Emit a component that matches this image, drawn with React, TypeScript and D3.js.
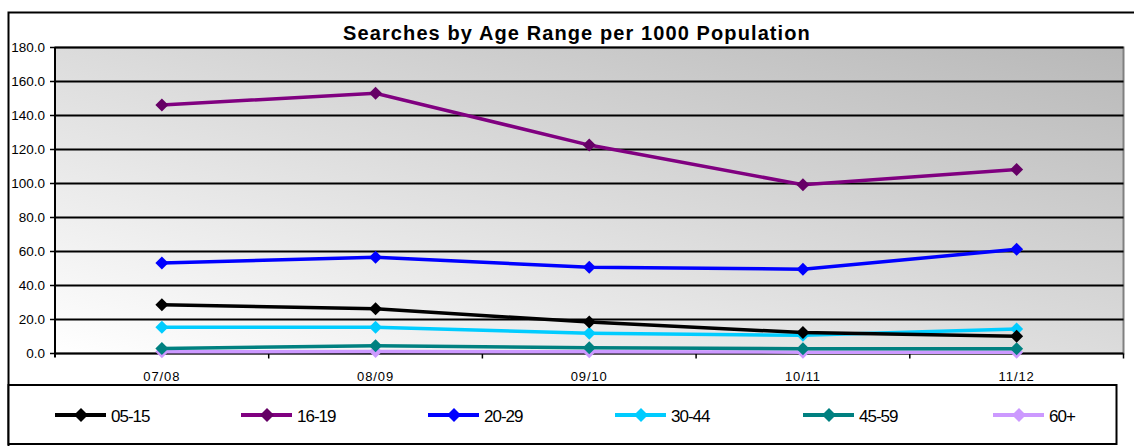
import React from "react";
import * as d3 from "d3";

const categories = ["07/08", "08/09", "09/10", "10/11", "11/12"];
const seriesNames = ["05-15", "16-19", "20-29", "30-44", "45-59", "60+"];
const s0515 = [28.7, 26.3, 18.5, 12.3, 10.2];
const s1619 = [146.2, 153.1, 122.6, 99.3, 108.3];
const s2029 = [53.3, 56.6, 50.7, 49.6, 61.3];
const s3044 = [15.4, 15.5, 11.9, 10.7, 14.4];
const s4559 = [3.0, 4.5, 3.4, 2.8, 2.8];
const s60 = [1.0, 1.2, 1.0, 0.8, 0.8];
const yTicks = [0, 20, 40, 60, 80, 100, 120, 140, 160, 180];
const lineColors = ["#000000", "#800080", "#0000ff", "#00ccff", "#008080", "#cc99ff"];
const markerColors = ["#000000", "#660066", "#0000ff", "#00ccff", "#008080", "#cc99ff"];

const allSeries = [s0515, s1619, s2029, s3044, s4559, s60];

export default function App() {
  const W = 1134, H = 446;
  const left = 55, right = 1123.5, top = 47.5, bottom = 353.5;
  const x = d3.scaleBand<string>().domain(categories).range([left, right]);
  const y = d3.scaleLinear().domain([0, 180]).range([bottom, top]);
  const line = d3.line<number>().x((_, i) => (x(categories[i]) as number) + x.bandwidth() / 2).y((d) => y(d));
  const diamond = (cx: number, cy: number, r: number) => `M${cx},${cy - r}L${cx + r},${cy}L${cx},${cy + r}L${cx - r},${cy}Z`;
  const font = "Arial, 'Liberation Sans', sans-serif";
  const legendX = [55, 241, 428, 615, 803, 993];
  const legendY = 415;

  return (
    <svg width={W} height={H} style={{ position: "absolute", left: 0, top: 0 }} fontFamily={font}>
      <defs>
        <linearGradient id="bg" x1="0" y1="1" x2="1" y2="0">
          <stop offset="0" stopColor="#ffffff" />
          <stop offset="1" stopColor="#b8b8b8" />
        </linearGradient>
      </defs>
      <rect x={0} y={0} width={W} height={H} fill="#fff" />
      <rect x={8.5} y={12.5} width={1140} height={445} fill="#fff" stroke="#000" strokeWidth={2} />
      <text x={577} y={40} textAnchor="middle" fontSize={20} fontWeight="bold" fill="#000" letterSpacing={1.1}>
        Searches by Age Range per 1000 Population
      </text>
      <rect x={left} y={top} width={right - left} height={bottom - top} fill="url(#bg)" stroke="#808080" strokeWidth={2} />
      {yTicks.filter((t) => t > 0).map((t) => (
        <line key={t} x1={left} x2={right} y1={y(t)} y2={y(t)} stroke="#000" strokeWidth={2} />
      ))}
      {yTicks.map((t) => (
        <g key={"yt" + t}>
          <line x1={left - 5} x2={left} y1={y(t)} y2={y(t)} stroke="#000" strokeWidth={1.5} />
          <text x={45} y={y(t) + 4.5} textAnchor="end" fontSize={13.5} fill="#000">{t.toFixed(1)}</text>
        </g>
      ))}
      <line x1={left} x2={left} y1={top} y2={bottom + 4} stroke="#000" strokeWidth={2} />
      <line x1={left} x2={right} y1={bottom} y2={bottom} stroke="#000" strokeWidth={2} />
      {categories.map((c, i) => (
        <g key={c}>
          <line x1={(x(c) as number) + x.bandwidth()} x2={(x(c) as number) + x.bandwidth()} y1={bottom} y2={bottom + 5} stroke="#000" strokeWidth={1.5} />
          <text x={(x(c) as number) + x.bandwidth() / 2} y={381} textAnchor="middle" fontSize={13} letterSpacing={0.9} fill="#000">{c}</text>
        </g>
      ))}
      {[...allSeries.keys()].reverse().map((si) => (
        <g key={si}>
          <path d={line(allSeries[si]) || ""} fill="none" stroke={lineColors[si]} strokeWidth={3.5} />
          {allSeries[si].map((v, i) => (
            <path key={i} d={diamond((x(categories[i]) as number) + x.bandwidth() / 2, y(v), 6.5)} fill={markerColors[si]} />
          ))}
        </g>
      ))}
      <rect x={8.5} y={385} width={1108} height={59} fill="#fff" stroke="#000" strokeWidth={2} />
      {seriesNames.map((n, i) => (
        <g key={n}>
          <line x1={legendX[i]} x2={legendX[i] + 51} y1={legendY} y2={legendY} stroke={lineColors[i]} strokeWidth={4} />
          <path d={diamond(legendX[i] + 26, legendY, 7)} fill={markerColors[i]} />
          <text x={legendX[i] + 56} y={legendY + 6.5} fontSize={17} fill="#000" letterSpacing={-1}>{n}</text>
        </g>
      ))}
    </svg>
  );
}
